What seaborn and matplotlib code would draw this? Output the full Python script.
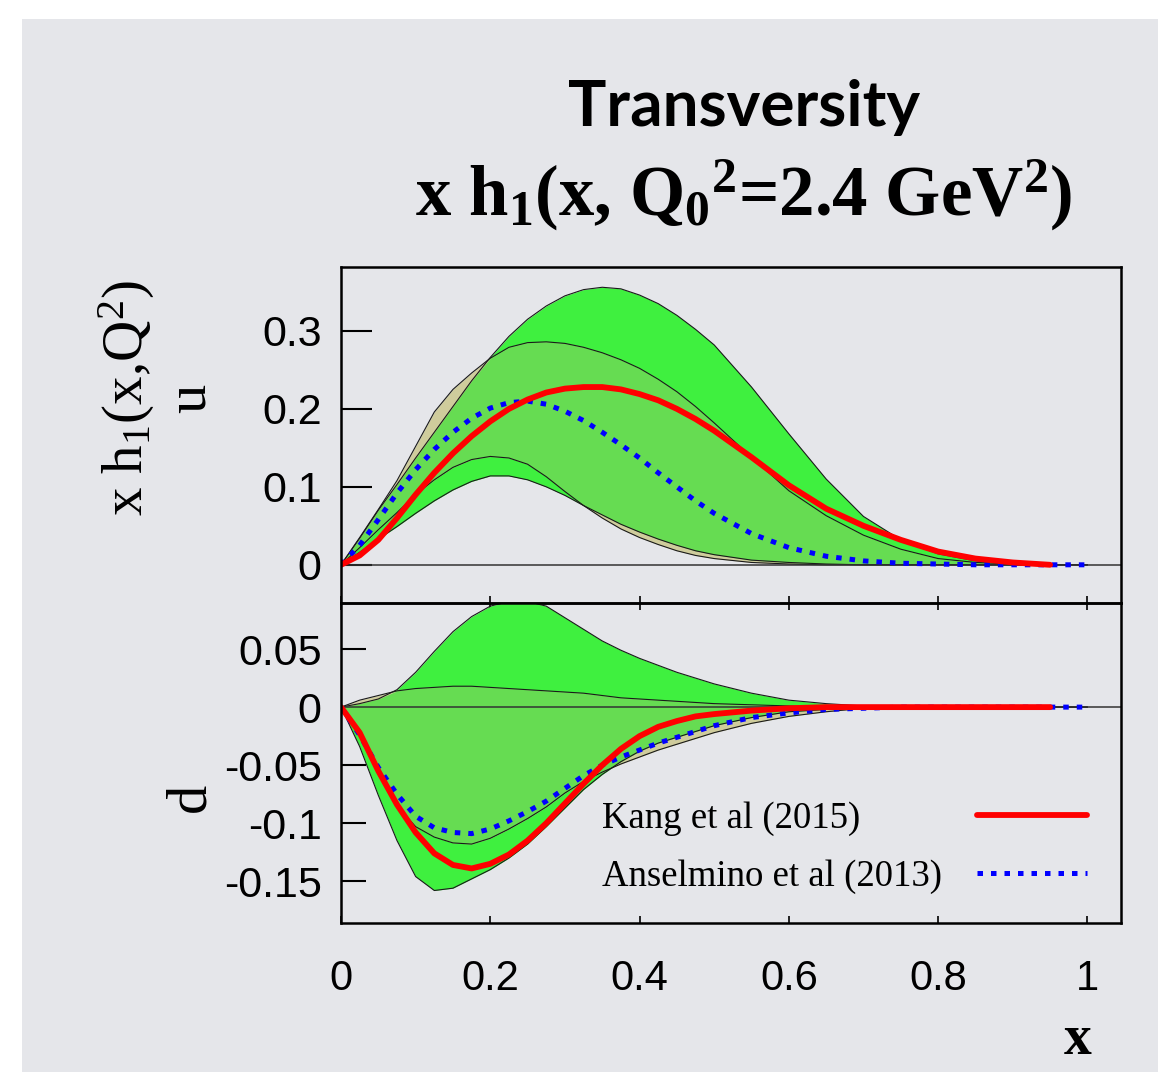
import numpy as np
import pandas as pd
import matplotlib
matplotlib.use("Agg")
import matplotlib.pyplot as plt
import seaborn as sns
from matplotlib.patches import Rectangle

# x grid shared by all curves (Kang curve stops at 0.95)
x_grid = [0, 0.025, 0.05, 0.075, 0.1, 0.125, 0.15, 0.175, 0.2, 0.225, 0.25, 0.275, 0.3,
          0.325, 0.35, 0.375, 0.4, 0.425, 0.45, 0.475, 0.5,
          0.55, 0.6, 0.65, 0.7, 0.75, 0.8, 0.85, 0.9, 0.95, 1.0]

# u quark
u_kang = [0, 0.012, 0.032, 0.06, 0.09, 0.118, 0.143, 0.165, 0.184, 0.2, 0.212, 0.221, 0.226,
          0.228, 0.228, 0.225, 0.219, 0.211, 0.2, 0.187, 0.172,
          0.138, 0.102, 0.072, 0.05, 0.032, 0.017, 0.008, 0.003, 0.0]
u_ans = [0, 0.025, 0.058, 0.092, 0.122, 0.148, 0.17, 0.188, 0.201, 0.208, 0.21, 0.206, 0.197,
         0.185, 0.17, 0.154, 0.137, 0.118, 0.1, 0.082, 0.066,
         0.04, 0.022, 0.011, 0.005, 0.002, 0.001, 0, 0, 0, 0]
u_kang_hi = [0, 0.034, 0.07, 0.103, 0.137, 0.17, 0.203, 0.236, 0.266, 0.293, 0.315, 0.332, 0.345,
             0.353, 0.356, 0.354, 0.346, 0.335, 0.32, 0.302, 0.282,
             0.228, 0.168, 0.11, 0.062, 0.032, 0.014, 0.005, 0.001, 0, 0]
u_kang_lo = [0, 0.016, 0.033, 0.049, 0.066, 0.082, 0.096, 0.107, 0.114, 0.114, 0.109, 0.1, 0.089,
             0.076, 0.064, 0.052, 0.042, 0.033, 0.025, 0.018, 0.013,
             0.006, 0.003, 0.001, 0, 0, 0, 0, 0, 0, 0]
u_ans_hi = [0, 0.035, 0.071, 0.108, 0.152, 0.196, 0.225, 0.246, 0.265, 0.279, 0.285, 0.286, 0.284,
            0.279, 0.272, 0.263, 0.252, 0.238, 0.222, 0.203, 0.182,
            0.138, 0.095, 0.063, 0.038, 0.02, 0.008, 0.003, 0.001, 0, 0]
u_ans_lo = [0, 0.022, 0.045, 0.067, 0.09, 0.109, 0.125, 0.135, 0.139, 0.137, 0.129, 0.113, 0.094,
            0.076, 0.06, 0.046, 0.035, 0.026, 0.018, 0.012, 0.008,
            0.003, 0.001, 0, 0, 0, 0, 0, 0, 0, 0]

# d quark
d_kang = [0, -0.022, -0.055, -0.084, -0.108, -0.126, -0.136, -0.139, -0.135, -0.127, -0.115, -0.1, -0.083,
          -0.066, -0.05, -0.036, -0.025, -0.017, -0.012, -0.008, -0.006,
          -0.003, -0.001, 0, 0, 0, 0, 0, 0, 0]
d_ans = [0, -0.024, -0.052, -0.075, -0.094, -0.104, -0.108, -0.109, -0.105, -0.098, -0.09, -0.081, -0.07,
         -0.059, -0.05, -0.043, -0.037, -0.031, -0.026, -0.021, -0.016,
         -0.009, -0.005, -0.002, -0.001, 0, 0, 0, 0, 0, 0]
d_kang_hi = [0, 0.003, 0.007, 0.015, 0.03, 0.048, 0.065, 0.078, 0.087, 0.091, 0.091, 0.087, 0.077,
             0.067, 0.057, 0.049, 0.042, 0.036, 0.03, 0.025, 0.02,
             0.012, 0.006, 0.003, 0.001, 0, 0, 0, 0, 0, 0]
d_kang_lo = [0, -0.034, -0.076, -0.115, -0.146, -0.158, -0.156, -0.148, -0.14, -0.13, -0.118, -0.103, -0.087,
             -0.071, -0.058, -0.047, -0.038, -0.031, -0.026, -0.021, -0.016,
             -0.009, -0.004, -0.002, -0.001, 0, 0, 0, 0, 0, 0]
d_ans_hi = [0, 0.006, 0.01, 0.014, 0.016, 0.017, 0.018, 0.018, 0.017, 0.016, 0.015, 0.014, 0.013,
            0.012, 0.01, 0.008, 0.007, 0.006, 0.005, 0.004, 0.003,
            0.002, 0.001, 0, 0, 0, 0, 0, 0, 0, 0]
d_ans_lo = [0, -0.025, -0.058, -0.085, -0.103, -0.112, -0.117, -0.118, -0.113, -0.105, -0.096, -0.086, -0.074,
            -0.064, -0.056, -0.049, -0.043, -0.037, -0.032, -0.027, -0.022,
            -0.014, -0.008, -0.004, -0.001, 0, 0, 0, 0, 0, 0]

x_ticks = [0, 0.2, 0.4, 0.6, 0.8, 1.0]
x_ticklabels = ["0", "0.2", "0.4", "0.6", "0.8", "1"]
u_ticks = [0, 0.1, 0.2, 0.3]
u_ticklabels = ["0", "0.1", "0.2", "0.3"]
d_ticks = [-0.15, -0.1, -0.05, 0, 0.05]
d_ticklabels = ["-0.15", "-0.1", "-0.05", "0", "0.05"]

labels = ["Kang et al (2015)", "Anselmino et al (2013)"]

BG = "#e5e6ea"
GREEN = "#3ff03f"
MIDGREEN = "#66dc52"
KHAKI = "#cfcc9c"

sns.set_theme(style="ticks")
plt.rcParams["font.family"] = ["Liberation Sans", "DejaVu Sans"]
plt.rcParams["text.color"] = "black"
plt.rcParams["xtick.color"] = "black"
plt.rcParams["ytick.color"] = "black"
plt.rcParams["mathtext.fontset"] = "custom"
plt.rcParams["mathtext.rm"] = "Liberation Serif"
plt.rcParams["mathtext.it"] = "Liberation Serif:italic"
plt.rcParams["mathtext.bf"] = "Liberation Serif:bold"

W, H = 1158, 1072
fig = plt.figure(figsize=(W / 100, H / 100), dpi=100)
fig.patch.set_facecolor("white")
fig.patches.append(Rectangle((22 / W, 0), 1, 1 - 19 / H, transform=fig.transFigure,
                             facecolor=BG, edgecolor="none", zorder=-10))

ax_u = fig.add_axes([341 / W, 1 - 603 / H, 780 / W, 336 / H])
ax_d = fig.add_axes([341 / W, 1 - 923 / H, 780 / W, 320 / H])


def draw_bands(ax, a_lo, a_hi, b_lo, b_hi):
    x = np.array(x_grid)
    a_lo, a_hi, b_lo, b_hi = map(np.array, (a_lo, a_hi, b_lo, b_hi))
    ax.fill_between(x, b_lo, b_hi, color=GREEN, lw=0, zorder=1)
    ax.fill_between(x, a_lo, a_hi, color=KHAKI, lw=0, zorder=2)
    lo = np.maximum(a_lo, b_lo)
    hi = np.minimum(a_hi, b_hi)
    ax.fill_between(x, lo, hi, where=hi > lo, interpolate=True, color=MIDGREEN, lw=0, zorder=3)
    for edge in (a_lo, a_hi, b_lo, b_hi):
        ax.plot(x, edge, color="#1a1a1a", lw=0.8, zorder=4)
    ax.axhline(0, color="#333333", lw=1.1, zorder=4)


def draw_curves(ax, kang, ans):
    df_k = pd.DataFrame({"x": x_grid[:len(kang)], "y": kang})
    df_a = pd.DataFrame({"x": x_grid[:len(ans)], "y": ans})
    sns.lineplot(data=df_k, x="x", y="y", ax=ax, color="#ff0000", lw=4.2,
                 label=labels[0], zorder=6)
    sns.lineplot(data=df_a, x="x", y="y", ax=ax, color="#0000ff", lw=3.6,
                 linestyle=(0, (1.1, 1.6)), dash_capstyle="butt",
                 label=labels[1], zorder=5)


draw_bands(ax_u, u_ans_lo, u_ans_hi, u_kang_lo, u_kang_hi)
draw_curves(ax_u, u_kang, u_ans)
draw_bands(ax_d, d_ans_lo, d_ans_hi, d_kang_lo, d_kang_hi)
draw_curves(ax_d, d_kang, d_ans)

for ax in (ax_u, ax_d):
    ax.set_facecolor("none")
    ax.set_xlim(0, 1.045)
    ax.set_xlabel("")
    ax.set_ylabel("")
    ax.set_xticks(x_ticks)
    for s in ax.spines.values():
        s.set_visible(True)
        s.set_linewidth(1.8)
        s.set_color("black")
        s.set_zorder(10)

ax_u.set_ylim(-0.049, 0.382)
ax_u.set_yticks(u_ticks)
ax_u.set_yticklabels(u_ticklabels)
ax_u.tick_params(axis="y", direction="in", length=22, width=1.5, labelsize=31, pad=14,
                 left=True, right=False)
ax_u.tick_params(axis="x", direction="in", length=5, width=1.2, bottom=True, top=False,
                 labelbottom=False)
ax_u.get_legend().remove()

ax_d.set_ylim(-0.186, 0.0897)
ax_d.set_yticks(d_ticks)
ax_d.set_yticklabels(d_ticklabels)
ax_d.set_xticklabels(x_ticklabels)
ax_d.tick_params(axis="y", direction="in", length=18, width=1.5, labelsize=31, pad=14,
                 left=True, right=False)
ax_d.tick_params(axis="x", direction="in", length=5, width=1.2, bottom=True, top=True,
                 labelsize=30, pad=26)
leg = ax_d.legend(loc="upper left", bbox_to_anchor=(602 / W, 1 - 801 / H), bbox_transform=fig.transFigure,
                  markerfirst=False, frameon=False, prop={"family": "Liberation Serif", "size": 26.5},
                  handlelength=3.0, handletextpad=0.95, labelspacing=0.65, borderpad=0, borderaxespad=0)

# gnuplot-style key: labels left-aligned, samples lined up on the right
renderer = fig.canvas.get_renderer()
widths = [t.get_window_extent(renderer).width for t in leg.get_texts()]
wmax = max(widths)
for col in leg._legend_handle_box.get_children():
    for item in col.get_children():
        txt = item.get_children()[0]._text
        item.sep += (wmax - txt.get_window_extent(renderer).width) * 72 / fig.dpi

# titles and axis texts
fig.text(744 / W, 1 - 108 / H, "Transversity", ha="center", va="center",
         fontsize=46, fontweight="bold", family=["Lato", "DejaVu Sans"])
fig.text(744 / W, 1 - 216 / H,
         r"x h$_\mathbf{1}$(x, Q$_\mathbf{0}{}^\mathbf{2}$=2.4 GeV$^\mathbf{2}$)",
         ha="center", va="baseline", fontsize=51, fontweight="bold", family="Liberation Serif")

fig.text(127 / W, 1 - 398 / H, r"x h$_1$(x,Q$^2$)", rotation=90, ha="center", va="center",
         fontsize=41, family="Liberation Serif")
fig.text(191 / W, 1 - 398 / H, "u", rotation=90, ha="center", va="center",
         fontsize=42, family="Liberation Serif")
fig.text(190 / W, 1 - 797 / H, "d", rotation=90, ha="center", va="center",
         fontsize=42, family="Liberation Serif")
fig.text(1078 / W, 1 - 1040 / H, "x", ha="center", va="center",
         fontsize=40, fontweight="bold", family="Liberation Serif")

fig.savefig("out.png", dpi=100, facecolor=fig.get_facecolor())
